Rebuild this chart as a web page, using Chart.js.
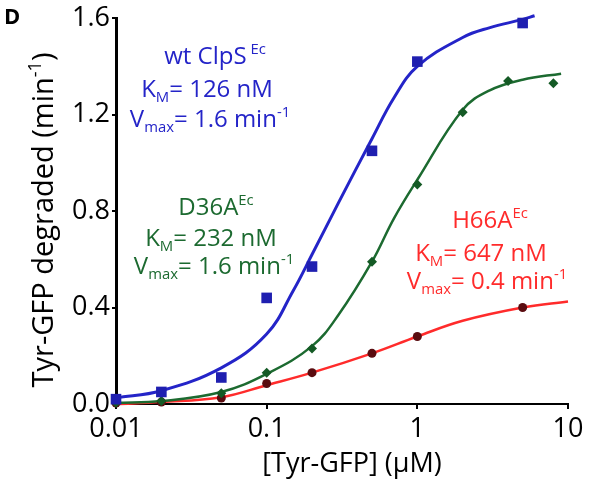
<!DOCTYPE html>
<html>
<head>
<meta charset="utf-8">
<script src="https://cdn.jsdelivr.net/npm/chart.js@4.4.1/dist/chart.umd.min.js"></script>
<style>
  html, body { margin: 0; padding: 0; background: #fff; }
  #wrap { width: 604px; height: 490px; }
</style>
</head>
<body>
<div id="wrap"><canvas id="canvas" width="604" height="490"></canvas></div>
<script>
// measured points
var wtX = [0.01, 0.02, 0.05, 0.1, 0.2, 0.5, 1, 5];
var wtY = [0.02, 0.05, 0.11, 0.44, 0.57, 1.05, 1.42, 1.58];
var d36X = [0.01, 0.02, 0.05, 0.1, 0.2, 0.5, 1, 2, 4, 8];
var d36Y = [0.005, 0.012, 0.045, 0.13, 0.23, 0.59, 0.91, 1.21, 1.34, 1.33];
var h66X = [0.01, 0.02, 0.05, 0.1, 0.2, 0.5, 1, 5];
var h66Y = [0.004, 0.008, 0.025, 0.085, 0.13, 0.21, 0.28, 0.40];

// fitted curves
var wtFitX = [0.01, 0.02, 0.05, 0.1, 0.15, 0.2, 0.3, 0.5, 0.7, 1, 2, 3, 5, 6];
var wtFitY = [0.025, 0.055, 0.15, 0.29, 0.47, 0.62, 0.835, 1.10, 1.27, 1.40, 1.52, 1.56, 1.595, 1.61];
var d36FitX = [0.01, 0.02, 0.05, 0.1, 0.2, 0.3, 0.5, 0.7, 1, 2, 3, 5, 9];
var d36FitY = [0.005, 0.012, 0.05, 0.125, 0.24, 0.37, 0.59, 0.77, 0.93, 1.22, 1.30, 1.345, 1.37];
var h66FitX = [0.01, 0.02, 0.05, 0.1, 0.2, 0.5, 1, 2, 5, 10];
var h66FitY = [0.0, 0.008, 0.028, 0.078, 0.13, 0.21, 0.28, 0.345, 0.40, 0.425];

var xTicks = [0.01, 0.1, 1, 10];
var yTicks = [0, 0.4, 0.8, 1.2, 1.6];

var FONT = "'Open Sans', 'DejaVu Sans', sans-serif";
var BLUE = '#2424c8', GREEN = '#1c6a30', RED = '#ff2b2b';

function pts(xs, ys) {
  return xs.map(function (x, i) { return { x: x, y: ys[i] }; });
}

function markers(xs, ys, style, color, r) {
  return {
    data: pts(xs, ys), showLine: false, pointStyle: style,
    pointRadius: r, pointBackgroundColor: color, pointBorderColor: color,
    pointBorderWidth: 0, clip: false
  };
}

function curve(xs, ys, color, w) {
  return {
    data: pts(xs, ys), showLine: true, borderColor: color, borderWidth: w,
    pointRadius: 0, tension: 0.4, fill: false, clip: false
  };
}

// text with sub/superscripts, centred on cx
function rich(ctx, parts, cx, base, size, color) {
  var small = size * 0.62;
  var widths = parts.map(function (p) {
    ctx.font = (p[1] === 'n' ? size : small) + 'px ' + FONT;
    return ctx.measureText(p[0]).width;
  });
  var total = widths.reduce(function (a, b) { return a + b; }, 0);
  var x = cx - total / 2;
  ctx.fillStyle = color;
  ctx.textAlign = 'left';
  ctx.textBaseline = 'alphabetic';
  parts.forEach(function (p, i) {
    var dy = 0;
    if (p[1] === 'sub') dy = size * 0.22;
    if (p[1] === 'sup') dy = -size * 0.42;
    ctx.font = (p[1] === 'n' ? size : small) + 'px ' + FONT;
    ctx.fillText(p[0], x, base + dy);
    x += widths[i];
  });
}

var notes = {
  id: 'notes',
  afterDraw: function (chart) {
    var ctx = chart.ctx;
    ctx.save();
    ctx.font = 'bold 22px ' + FONT;
    ctx.fillStyle = '#000';
    ctx.textAlign = 'left';
    ctx.textBaseline = 'alphabetic';
    ctx.fillText('D', 4, 24);

    rich(ctx, [['wt ClpS', 'n'], [' Ec', 'sup']], 215, 64, 24, BLUE);
    rich(ctx, [['K', 'n'], ['M', 'sub'], ['= 126 nM', 'n']], 207, 97, 24, BLUE);
    rich(ctx, [['V', 'n'], ['max', 'sub'], ['= 1.6 min', 'n'], ['-1', 'sup']], 210, 127, 24, BLUE);

    rich(ctx, [['D36A', 'n'], ['Ec', 'sup']], 216, 215, 24, GREEN);
    rich(ctx, [['K', 'n'], ['M', 'sub'], ['= 232 nM', 'n']], 211, 246, 24, GREEN);
    rich(ctx, [['V', 'n'], ['max', 'sub'], ['= 1.6 min', 'n'], ['-1', 'sup']], 214, 274, 24, GREEN);

    rich(ctx, [['H66A', 'n'], ['Ec', 'sup']], 490, 228, 24, RED);
    rich(ctx, [['K', 'n'], ['M', 'sub'], ['= 647 nM', 'n']], 481, 261, 24, RED);
    rich(ctx, [['V', 'n'], ['max', 'sub'], ['= 0.4 min', 'n'], ['-1', 'sup']], 487, 289, 24, RED);

    rich(ctx, [['[Tyr-GFP] (\u00b5M)', 'n']], 352, 472, 27, '#000');

    ctx.translate(53, 220);
    ctx.rotate(-Math.PI / 2);
    rich(ctx, [['Tyr-GFP degraded (min', 'n'], ['-1', 'sup'], [')', 'n']], 0, 0, 29, '#000');
    ctx.restore();
  }
};

var chart = new Chart(document.getElementById('canvas'), {
  type: 'scatter',
  data: {
    datasets: [
      markers(wtX, wtY, 'rect', '#1f1fb0', 7.5),
      markers(d36X, d36Y, 'rectRot', '#145a25', 5),
      markers(h66X, h66Y, 'circle', '#5a0c10', 4.5),
      curve(wtFitX, wtFitY, BLUE, 3),
      curve(d36FitX, d36FitY, GREEN, 2.5),
      curve(h66FitX, h66FitY, RED, 2.5)
    ]
  },
  plugins: [notes],
  options: {
    responsive: false,
    animation: false,
    layout: { padding: { top: 15, right: 36, left: 0, bottom: 0 } },
    plugins: { legend: { display: false }, tooltip: { enabled: false } },
    scales: {
      x: {
        type: 'logarithmic', min: 0.01, max: 10,
        afterBuildTicks: function (s) { s.ticks = xTicks.map(function (v) { return { value: v }; }); },
        afterFit: function (s) { s.height = 86; },
        border: { color: '#000', width: 2 },
        grid: { drawOnChartArea: false, drawTicks: true, tickLength: 5, color: '#000', lineWidth: 2 },
        ticks: {
          color: '#000', padding: 4, maxRotation: 0, autoSkip: false,
          font: { family: FONT, size: 27 },
          callback: function (v) { return String(v); }
        }
      },
      y: {
        min: 0, max: 1.6,
        afterBuildTicks: function (s) { s.ticks = yTicks.map(function (v) { return { value: v }; }); },
        afterFit: function (s) { s.width = 116; },
        border: { color: '#000', width: 3 },
        grid: { drawOnChartArea: false, drawTicks: true, tickLength: 4, color: '#000', lineWidth: 2 },
        ticks: {
          color: '#000', padding: 2,
          font: { family: FONT, size: 27 },
          callback: function (v) { return v.toFixed(1); }
        }
      }
    }
  }
});
</script>
</body>
</html>
